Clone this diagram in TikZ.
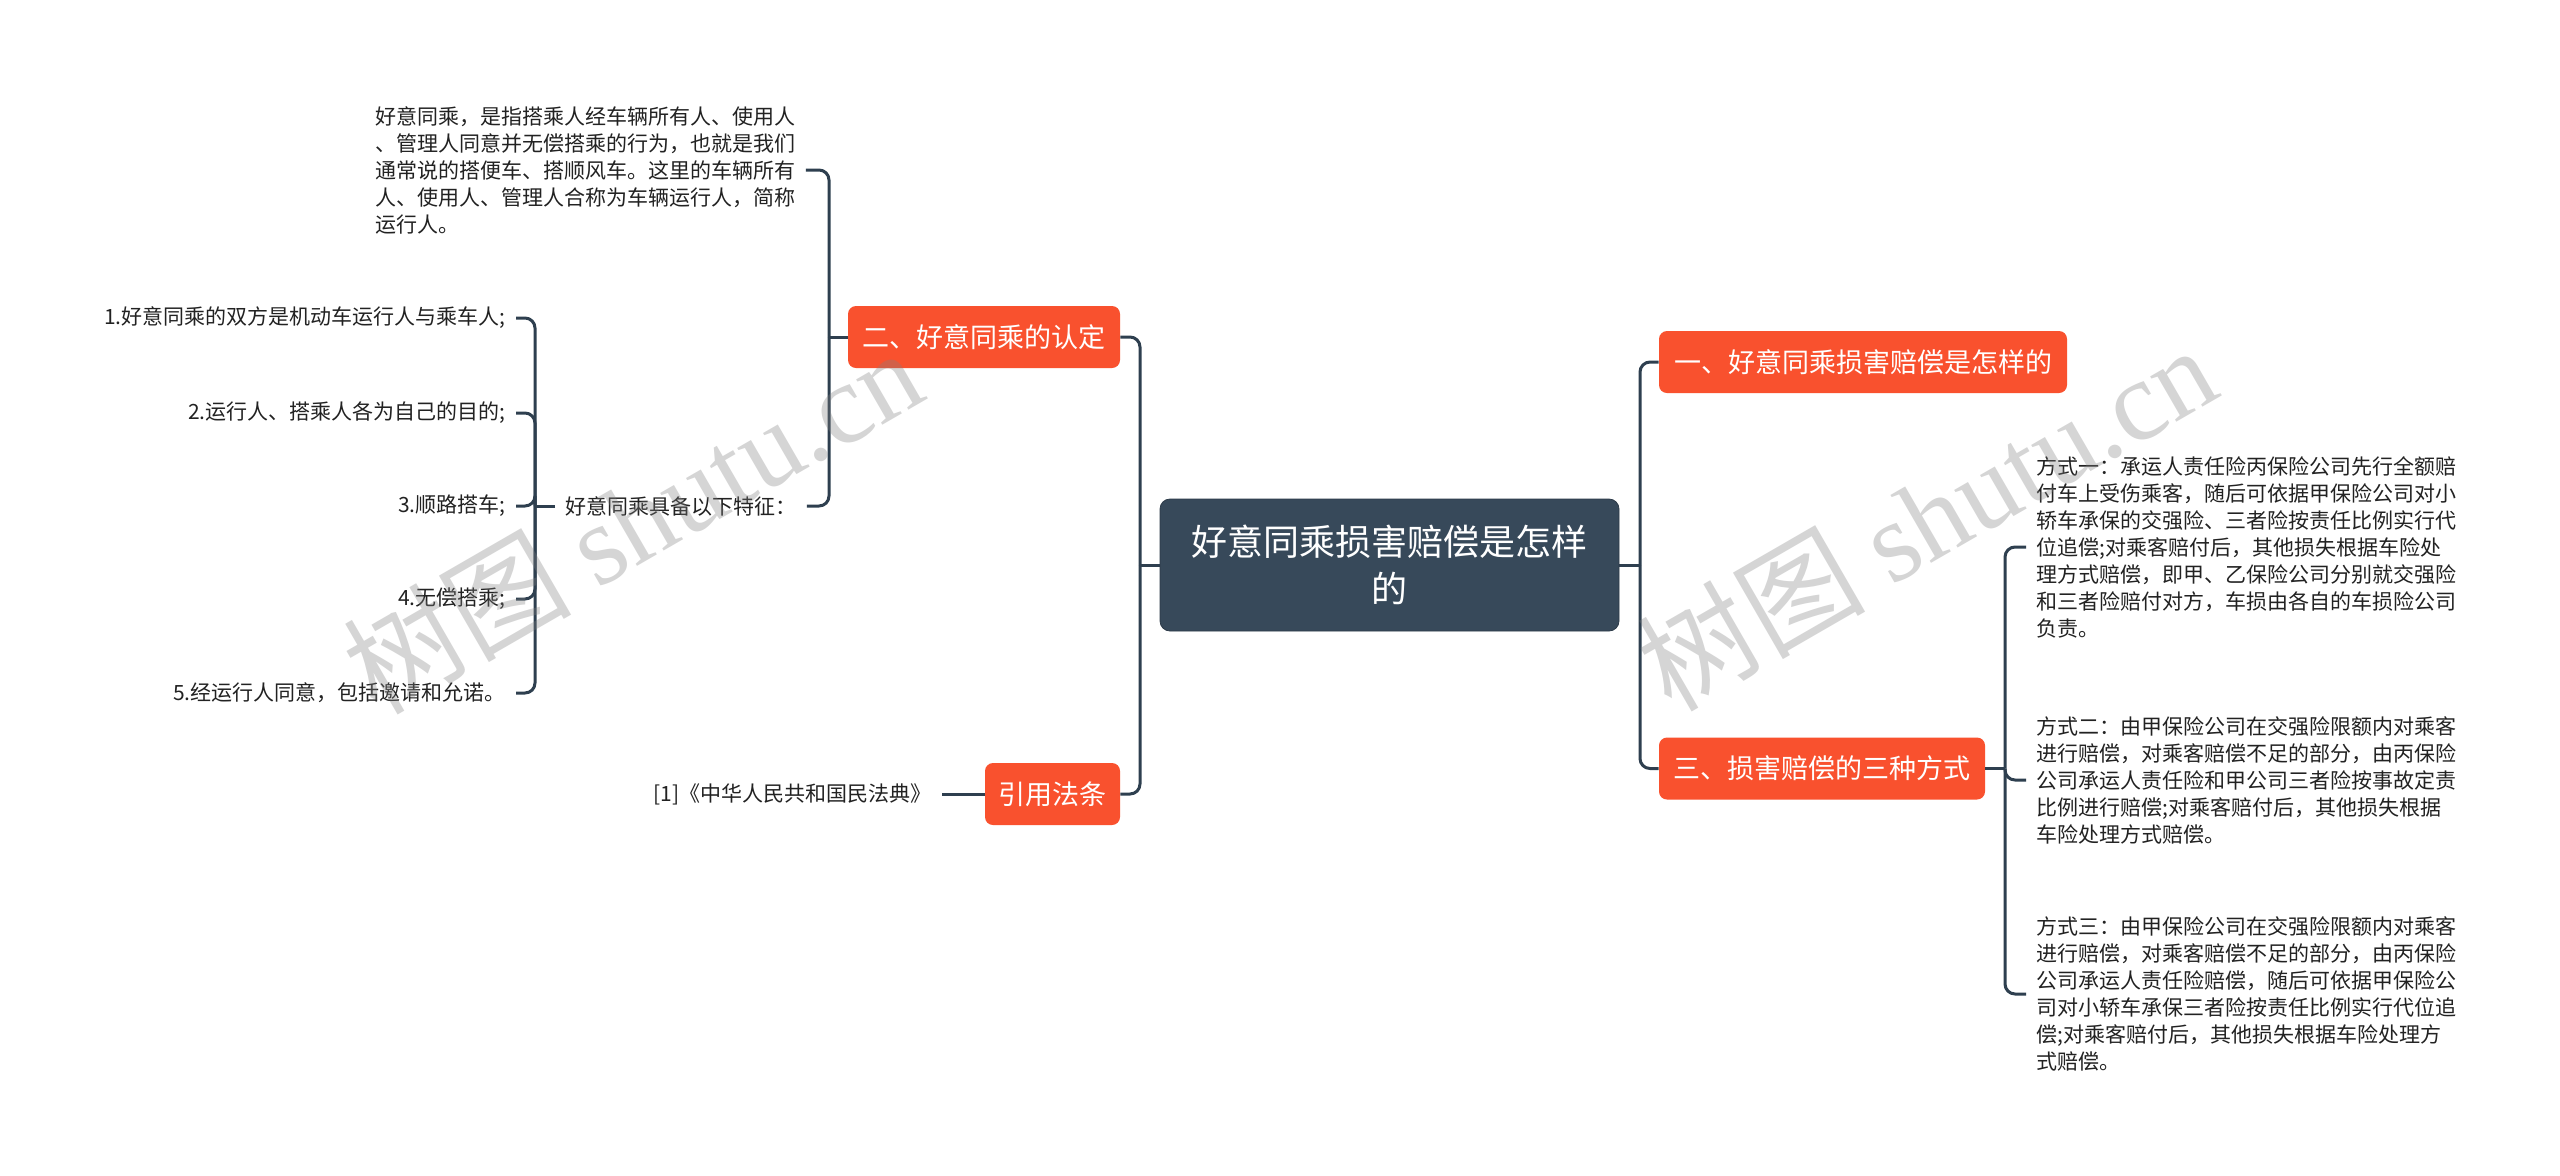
\documentclass[tikz,border=0pt]{standalone}
\usepackage{fontspec}
\setmainfont{Noto Sans CJK SC}
\newfontfamily\wmserif{Liberation Serif}
\definecolor{linec}{HTML}{2E3F4F}
\definecolor{mainc}{HTML}{37495A}
\definecolor{orangec}{HTML}{F9512E}
\definecolor{leaftext}{HTML}{222222}
\tikzset{
  conn/.style={draw=linec, line width=1.5pt, rounded corners=5pt},
  mainbox/.style={fill=mainc, draw=mainc!80!black, line width=0.4pt, text=white, rounded corners=5pt, minimum width=229.5pt, minimum height=66pt, align=center, inner sep=0pt, font=\fontsize{18}{23.5}\selectfont},
  topic/.style={fill=orangec, text=white, rounded corners=4pt, minimum height=31pt, inner sep=0pt, font=\fontsize{13.5}{16}\selectfont},
  leaf/.style={text=leaftext, align=left, inner xsep=5pt, inner ysep=0pt, font=\fontsize{10.5}{13.5}\selectfont},
  wm/.style={text=black!50, text opacity=0.33, inner sep=0pt, font=\fontsize{57}{57}\selectfont}
}
\begin{document}
\begin{tikzpicture}[x=0.5pt, y=-0.5pt]
\fill[white] (0,0) rectangle (2560,1175);
\useasboundingbox (0,0) rectangle (2560,1175);

% central node and main topics
\node[mainbox] (root) at (1389.5,565) {好意同乘损害赔偿是怎样\\的};
\node[topic, minimum width=136pt] (t2) at (984,337) {二、好意同乘的认定};
\node[topic, minimum width=67.5pt] (tref) at (1052.5,794) {引用法条};
\node[topic, minimum width=204pt] (t1) at (1863,362) {一、好意同乘损害赔偿是怎样的};
\node[topic, minimum width=163pt] (t3) at (1822,768.5) {三、损害赔偿的三种方式};

% left leaves
\node[leaf, anchor=west] (def) at (365,170) {好意同乘，是指搭乘人经车辆所有人、使用人\\、管理人同意并无偿搭乘的行为，也就是我们\\通常说的搭便车、搭顺风车。这里的车辆所有\\人、使用人、管理人合称为车辆运行人，简称\\运行人。};
\node[leaf, anchor=west] (feat) at (555,506) {好意同乘具备以下特征：};
\node[leaf, anchor=east] (f1) at (516,318) {1.好意同乘的双方是机动车运行人与乘车人;};
\node[leaf, anchor=east] (f2) at (516,413) {2.运行人、搭乘人各为自己的目的;};
\node[leaf, anchor=east] (f3) at (516,506) {3.顺路搭车;};
\node[leaf, anchor=east] (f4) at (516,599) {4.无偿搭乘;};
\node[leaf, anchor=east] (f5) at (516,693) {5.经运行人同意，包括邀请和允诺。};
\node[leaf, anchor=east] (cite) at (942,794) {[1]《中华人民共和国民法典》};

% right leaves
\node[leaf, anchor=west] (m1) at (2026,547) {方式一：承运人责任险丙保险公司先行全额赔\\付车上受伤乘客，随后可依据甲保险公司对小\\轿车承保的交强险、三者险按责任比例实行代\\位追偿;对乘客赔付后，其他损失根据车险处\\理方式赔偿，即甲、乙保险公司分别就交强险\\和三者险赔付对方，车损由各自的车损险公司\\负责。};
\node[leaf, anchor=west] (m2) at (2026,780) {方式二：由甲保险公司在交强险限额内对乘客\\进行赔偿，对乘客赔偿不足的部分，由丙保险\\公司承运人责任险和甲公司三者险按事故定责\\比例进行赔偿;对乘客赔付后，其他损失根据\\车险处理方式赔偿。};
\node[leaf, anchor=west] (m3) at (2026,994) {方式三：由甲保险公司在交强险限额内对乘客\\进行赔偿，对乘客赔偿不足的部分，由丙保险\\公司承运人责任险赔偿，随后可依据甲保险公\\司对小轿车承保三者险按责任比例实行代位追\\偿;对乘客赔付后，其他损失根据车险处理方\\式赔偿。};

% bus coordinates
\coordinate (bL) at (1140,565);
\coordinate (bR) at (1640,565);
\coordinate (b2) at (829,337);
\coordinate (bF) at (535,506);
\coordinate (b3) at (2005,768.5);

% connectors
\draw[conn] (root.west) -- (bL);
\draw[conn] (bL) |- (t2.east);
\draw[conn] (bL) |- (tref.east);
\draw[conn] (root.east) -- (bR);
\draw[conn] (bR) |- (t1.west);
\draw[conn] (bR) |- (t3.west);
\draw[conn] (t2.west) -- (b2);
\draw[conn] (b2) |- (def.east);
\draw[conn] (b2) |- (feat.east);
\draw[conn] (feat.west) -- (bF);
\draw[conn] (bF) |- (f1.east);
\draw[conn] (bF) |- (f2.east);
\draw[conn] (bF) |- (f3.east);
\draw[conn] (bF) |- (f4.east);
\draw[conn] (bF) |- (f5.east);
\draw[conn] (tref.west) -- (cite.east);
\draw[conn] (t3.east) -- (b3);
\draw[conn] (b3) |- (m1.west);
\draw[conn] (b3) |- (m2.west);
\draw[conn] (b3) |- (m3.west);

% watermarks
\node[wm, rotate=30] (wm1) at (632,520) {树图 {\wmserif shutu.cn}};
\node[wm, rotate=30] (wm2) at (1926,517) {树图 {\wmserif shutu.cn}};
\end{tikzpicture}
\end{document}
